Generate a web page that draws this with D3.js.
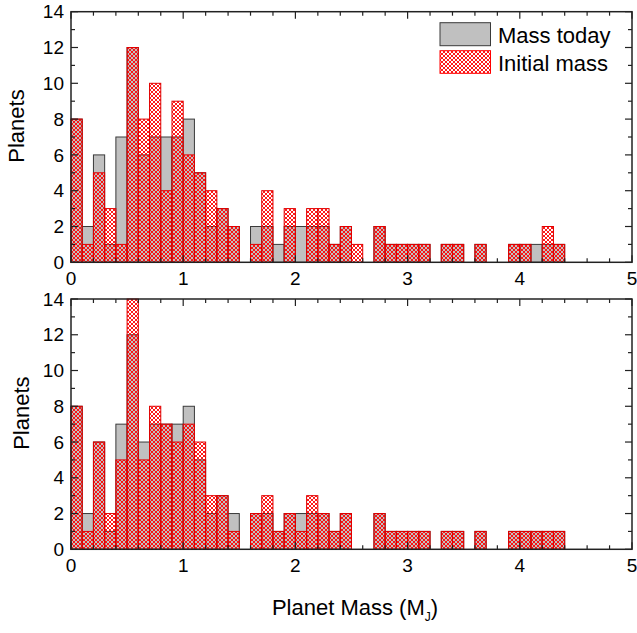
<!DOCTYPE html>
<html>
<head>
<meta charset="utf-8">
<title>planet mass histograms</title>
<style>
    body { margin: 0; background: #fff; }
    text { font-family: "Liberation Sans", Arial, sans-serif; fill: #000; }
    .tick-label { font-size: 19px; }
    .axis-title { font-size: 22px; }
    .legend text { font-size: 22px; }
</style>
</head>
<body>
<script src="https://cdn.jsdelivr.net/npm/d3@7"></script>
<script>

// lower edge of each 0.1 M_J bin
var binStarts = [0.0, 0.1, 0.2, 0.3, 0.4, 0.5, 0.6, 0.7, 0.8, 0.9,
                 1.0, 1.1, 1.2, 1.3, 1.4, 1.5, 1.6, 1.7, 1.8, 1.9,
                 2.0, 2.1, 2.2, 2.3, 2.4, 2.5, 2.6, 2.7, 2.8, 2.9,
                 3.0, 3.1, 3.2, 3.3, 3.4, 3.5, 3.6, 3.7, 3.8, 3.9,
                 4.0, 4.1, 4.2, 4.3]
var binWidth = 0.1

// top panel
var todayTop   = [8, 2, 6, 1, 7, 12, 6, 7, 7, 7, 8, 5, 2, 3, 2, 0, 2, 2, 1, 2, 2, 2, 2, 1, 2, 0, 0, 2, 1, 1, 1, 1, 0, 1, 1, 0, 1, 0, 0, 1, 1, 1, 1, 1]
var initialTop = [8, 1, 5, 3, 1, 12, 8, 10, 4, 9, 6, 5, 4, 3, 2, 0, 1, 4, 0, 3, 0, 3, 3, 1, 2, 1, 0, 2, 1, 1, 1, 1, 0, 1, 1, 0, 1, 0, 0, 1, 1, 0, 2, 1]

// bottom panel
var todayBottom   = [8, 2, 6, 1, 7, 12, 6, 7, 7, 7, 8, 5, 2, 3, 2, 0, 2, 2, 1, 2, 2, 2, 2, 1, 2, 0, 0, 2, 1, 1, 1, 1, 0, 1, 1, 0, 1, 0, 0, 1, 1, 1, 1, 1]
var initialBottom = [8, 1, 6, 2, 5, 14, 5, 8, 7, 6, 7, 6, 3, 3, 1, 0, 2, 3, 1, 2, 1, 3, 2, 1, 2, 0, 0, 2, 1, 1, 1, 1, 0, 1, 1, 0, 1, 0, 0, 1, 1, 1, 1, 1]

var xTicks = [0, 1, 2, 3, 4, 5]
var yTicks = [0, 2, 4, 6, 8, 10, 12, 14]
var legendLabels = ['Mass today', 'Initial mass']

var width = 637, height = 633
var left = 71, right = 632

var svg = d3.select('body').append('svg')
    .attr('width', width)
    .attr('height', height)

// red cross-hatch
var defs = svg.append('defs')
var pat = defs.append('pattern')
    .attr('id', 'hatch')
    .attr('patternUnits', 'userSpaceOnUse')
    .attr('width', 4)
    .attr('height', 4)
pat.append('path')
    .attr('d', 'M0,0L4,4M4,0L0,4M-1,3L1,5M3,-1L5,1M-1,1L1,-1M3,5L5,3')
    .attr('stroke', '#ff0000')
    .attr('stroke-width', 0.9)
    .attr('fill', 'none')

var x = d3.scaleLinear().domain([0, 5]).range([left, right])

function panel(top, bottom, today, initial, labelX) {
    var y = d3.scaleLinear().domain([0, 14]).range([bottom, top])
    var g = svg.append('g')

    var rows = binStarts.map(function(b, i) {
        return {x0: b, x1: b + binWidth, today: today[i], initial: initial[i]}
    })

    g.selectAll('rect.today')
        .data(rows.filter(function(d) { return d.today > 0 }))
        .enter().append('rect')
        .attr('class', 'today')
        .attr('x', function(d) { return x(d.x0) })
        .attr('width', function(d) { return x(d.x1) - x(d.x0) })
        .attr('y', function(d) { return y(d.today) })
        .attr('height', function(d) { return y(0) - y(d.today) })
        .attr('fill', '#c0c0c0')
        .attr('stroke', '#3a3a3a')
        .attr('stroke-width', 1)

    g.selectAll('rect.initial')
        .data(rows.filter(function(d) { return d.initial > 0 }))
        .enter().append('rect')
        .attr('class', 'initial')
        .attr('x', function(d) { return x(d.x0) })
        .attr('width', function(d) { return x(d.x1) - x(d.x0) })
        .attr('y', function(d) { return y(d.initial) })
        .attr('height', function(d) { return y(0) - y(d.initial) })
        .attr('fill', 'url(#hatch)')
        .attr('stroke', '#e00000')
        .attr('stroke-width', 1)

    // inward ticks on all four sides
    var tickW = 1.2, tickC = '#222'
    var xMinor = d3.range(0, 5.001, 0.2)
    var yMinor = d3.range(0, 14.001, 1)

    g.selectAll('line.xt')
        .data(xMinor)
        .enter().append('line')
        .attr('x1', function(d) { return x(d) }).attr('x2', function(d) { return x(d) })
        .attr('y1', bottom)
        .attr('y2', function(d) { return bottom - (Math.abs(d - Math.round(d)) < 1e-6 ? 7 : 4) })
        .attr('stroke', tickC).attr('stroke-width', tickW)
    g.selectAll('line.xtt')
        .data(xMinor)
        .enter().append('line')
        .attr('x1', function(d) { return x(d) }).attr('x2', function(d) { return x(d) })
        .attr('y1', top)
        .attr('y2', function(d) { return top + (Math.abs(d - Math.round(d)) < 1e-6 ? 7 : 4) })
        .attr('stroke', tickC).attr('stroke-width', tickW)
    g.selectAll('line.yt')
        .data(yMinor)
        .enter().append('line')
        .attr('y1', function(d) { return y(d) }).attr('y2', function(d) { return y(d) })
        .attr('x1', left)
        .attr('x2', function(d) { return left + (d % 2 === 0 ? 7 : 4) })
        .attr('stroke', tickC).attr('stroke-width', tickW)
    g.selectAll('line.ytr')
        .data(yMinor)
        .enter().append('line')
        .attr('y1', function(d) { return y(d) }).attr('y2', function(d) { return y(d) })
        .attr('x1', right)
        .attr('x2', function(d) { return right - (d % 2 === 0 ? 7 : 4) })
        .attr('stroke', tickC).attr('stroke-width', tickW)

    // frame
    g.append('rect')
        .attr('x', left).attr('y', top)
        .attr('width', right - left).attr('height', bottom - top)
        .attr('fill', 'none')
        .attr('stroke', '#222')
        .attr('stroke-width', 1.5)

    g.selectAll('text.xl')
        .data(xTicks)
        .enter().append('text')
        .attr('class', 'tick-label')
        .attr('x', function(d) { return x(d) })
        .attr('y', bottom + 23)
        .attr('text-anchor', 'middle')
        .text(function(d) { return d })

    g.selectAll('text.yl')
        .data(yTicks)
        .enter().append('text')
        .attr('class', 'tick-label')
        .attr('x', left - 7)
        .attr('y', function(d) { return y(d) })
        .attr('dy', '0.35em')
        .attr('text-anchor', 'end')
        .text(function(d) { return d })

    svg.append('text')
        .attr('class', 'axis-title')
        .attr('transform', 'translate(' + labelX + ',' + ((top + bottom) / 2 - 11) + ') rotate(-90)')
        .attr('text-anchor', 'middle')
        .text('Planets')
}

panel(11.7, 262.3, todayTop, initialTop, 24)
panel(299, 549.3, todayBottom, initialBottom, 29)

// x axis title
var xt = svg.append('text')
    .attr('class', 'axis-title')
    .attr('x', 355)
    .attr('y', 615)
    .attr('text-anchor', 'middle')
xt.append('tspan').text('Planet Mass (M')
xt.append('tspan').attr('dy', 6).style('font-size', '12px').text('J')
xt.append('tspan').attr('dy', -6).text(')')

// legend
var legend = svg.append('g').attr('class', 'legend')
legend.append('rect')
    .attr('x', 440).attr('y', 22.7).attr('width', 50.5).attr('height', 23)
    .attr('fill', '#c0c0c0').attr('stroke', '#3a3a3a').attr('stroke-width', 1)
legend.append('rect')
    .attr('x', 440).attr('y', 50.7).attr('width', 50.5).attr('height', 22.6)
    .attr('fill', 'url(#hatch)').attr('stroke', '#ff0000').attr('stroke-width', 1)
legend.selectAll('text')
    .data(legendLabels)
    .enter().append('text')
    .attr('x', 498)
    .attr('y', function(d, i) { return 43 + i * 28 })
    .text(function(d) { return d })

</script>
</body>
</html>
